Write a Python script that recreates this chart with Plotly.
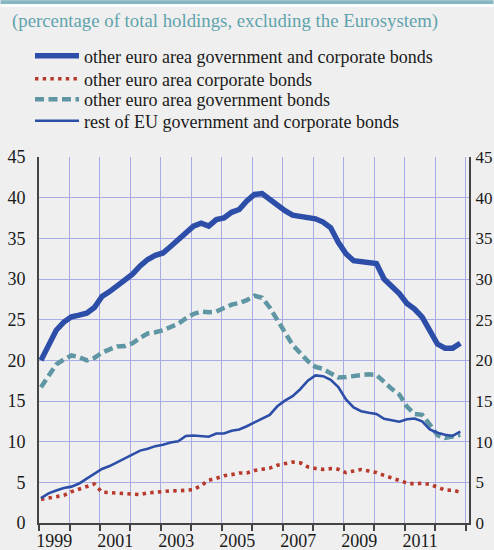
import plotly.graph_objects as go

# ---------------- data (quarterly, 1999Q1 - 2012Q4) ----------------
years = list(range(1999, 2013))
quarters = [f"{y}Q{q}" for y in years for q in range(1, 5)]

euro_gov_corp = [20.0, 22.0, 23.7, 24.7, 25.35, 25.55, 25.8, 26.5, 27.85, 28.45,
                 29.2, 29.85, 30.6, 31.6, 32.4, 32.9, 33.2, 34.0, 34.8, 35.6,
                 36.5, 36.85, 36.5, 37.3, 37.5, 38.2, 38.55, 39.6, 40.4, 40.5,
                 39.8, 39.0, 38.4, 37.85, 37.65, 37.5, 37.4, 37.0, 36.3, 34.5,
                 33.1, 32.25, 32.1, 31.95, 31.9, 30.0, 29.2, 28.2, 27.0, 26.3,
                 25.3, 23.5, 22.0, 21.5, 21.5, 22.1]
euro_corp = [2.9, 3.05, 3.2, 3.4, 3.85, 4.2, 4.55, 4.8, 3.8, 3.75,
             3.72, 3.65, 3.55, 3.5, 3.7, 3.82, 3.87, 3.95, 3.96, 4.0,
             4.1, 4.6, 5.25, 5.5, 5.8, 5.95, 6.15, 6.15, 6.45, 6.6,
             6.75, 7.1, 7.35, 7.5, 7.4, 6.9, 6.7, 6.6, 6.68, 6.6,
             6.2, 6.4, 6.57, 6.4, 6.2, 5.85, 5.55, 5.15, 4.92, 4.8,
             4.9, 4.75, 4.4, 4.05, 4.03, 3.8]
euro_gov = [16.7, 18.2, 19.5, 20.1, 20.6, 20.4, 20.0, 20.3, 20.95, 21.35,
            21.7, 21.75, 22.1, 22.75, 23.3, 23.45, 23.7, 24.1, 24.5, 25.15,
            25.7, 26.0, 25.9, 26.0, 26.5, 26.85, 27.05, 27.4, 27.95, 27.7,
            26.5, 25.0, 23.5, 21.9, 20.9, 19.9, 19.2, 18.95, 18.4, 17.9,
            17.95, 18.1, 18.2, 18.3, 18.2, 17.3, 16.5, 15.8, 14.3, 13.4,
            13.3, 12.1, 10.8, 10.45, 10.6, 10.85]
rest_eu = [3.05, 3.65, 4.0, 4.3, 4.47, 4.85, 5.45, 6.1, 6.65, 7.0,
           7.45, 7.98, 8.42, 8.9, 9.13, 9.45, 9.62, 9.9, 10.05, 10.7,
           10.75, 10.72, 10.6, 11.0, 11.0, 11.35, 11.5, 11.9, 12.35, 12.9,
           13.3, 14.35, 15.05, 15.6, 16.45, 17.5, 18.15, 18.05, 17.6, 16.7,
           15.2, 14.2, 13.75, 13.55, 13.4, 12.8, 12.65, 12.45, 12.75, 12.85,
           12.5, 11.5, 11.1, 10.85, 10.7, 11.25]

names = ["other euro area government and corporate bonds",
         "other euro area corporate bonds",
         "other euro area government bonds",
         "rest of EU government and corporate bonds"]
label_years = ["1999", "2001", "2003", "2005", "2007", "2009", "2011"]
title_text = "(percentage of total holdings, excluding the Eurosystem)"

# numeric x position of each quarter (decimal years)
xq = [int(q[:4]) + (int(q[-1]) - 1) * 0.25 + 0.065 for q in quarters]

# ---------------- geometry ----------------
W, H = 494, 550
L, R, T, B = 38.5, 469.5, 156.7, 522.7
X0, X1 = 1999.0, 2013.1


def px_x(p):
    return (p - L) / (R - L)


def px_y(p):
    return (B - p) / (B - T)


BG = "#efefef"
BLUE = "#2c4ea8"
TEAL = "#5e96a3"
RED = "#b8392c"
GRID = "#a8abe6"
AXIS = "#444444"
FONT = "Liberation Serif"
TXT = "#1a1a1a"

legend_rows = [56.0, 79.0, 99.6, 121.0]   # vertical centres of legend rows (px)
legend_x = 30

fig = go.Figure()
fig.add_trace(go.Scatter(x=xq, y=euro_gov, name=names[2], mode="lines",
                         line=dict(color=TEAL, width=4.5, dash="9px,4.5px"),
                         legend="legend3"))
fig.add_trace(go.Scatter(x=xq, y=euro_corp, name=names[1], mode="lines",
                         line=dict(color=RED, width=3.6, dash="3.4px,4.3px"),
                         legend="legend2"))
fig.add_trace(go.Scatter(x=xq, y=rest_eu, name=names[3], mode="lines",
                         line=dict(color=BLUE, width=2.6), legend="legend4"))
fig.add_trace(go.Scatter(x=xq, y=euro_gov_corp, name=names[0], mode="lines",
                         line=dict(color=BLUE, width=5.5), legend="legend"))
# invisible helper trace so the secondary axes are active
fig.add_trace(go.Scatter(x=[X0], y=[0], xaxis="x2", yaxis="y2", mode="markers",
                         marker=dict(opacity=0), showlegend=False, hoverinfo="skip"))


def legend_box(row_y):
    return dict(x=legend_x / W, xref="container", xanchor="left",
                y=1 - row_y / H, yref="container", yanchor="middle",
                bgcolor="rgba(0,0,0,0)", borderwidth=0, itemwidth=44,
                font=dict(family=FONT, size=18, color=TXT))


axis_font = dict(family=FONT, size=18, color=TXT)

fig.update_layout(
    width=W, height=H,
    margin=dict(l=L, r=W - R, t=T, b=H - B, pad=0, autoexpand=False),
    paper_bgcolor=BG, plot_bgcolor=BG,
    font=dict(family=FONT, size=18, color=TXT),
    title=dict(text=title_text, x=12 / W, xanchor="left", xref="container",
               y=1 - 20 / H, yanchor="middle", yref="container",
               font=dict(family=FONT, size=18.8, color="#5fa3ad")),
    showlegend=True,
    legend=legend_box(legend_rows[0]),
    legend2=legend_box(legend_rows[1]),
    legend3=legend_box(legend_rows[2]),
    legend4=legend_box(legend_rows[3]),
    xaxis=dict(range=[X0, X1], tickmode="array", tickvals=years + [2013],
               showticklabels=False, ticks="outside", ticklen=6, tickwidth=1.5,
               tickcolor=AXIS, showgrid=True, gridcolor=GRID, gridwidth=1,
               showline=True, linecolor=AXIS, linewidth=1.5, zeroline=False),
    xaxis2=dict(range=[X0, X1], overlaying="x", side="bottom", anchor="y",
                tickmode="array", tickvals=[int(y) + 0.5 for y in label_years],
                ticktext=label_years, ticks="", showgrid=False, showline=False,
                zeroline=False, ticklabelstandoff=5, tickfont=axis_font),
    yaxis=dict(range=[0, 45], dtick=5, tick0=0, showgrid=True, gridcolor=GRID,
               gridwidth=1, showline=True, linecolor=AXIS, linewidth=2,
               zeroline=False, ticks="", ticklabelstandoff=8, tickfont=axis_font),
    yaxis2=dict(range=[0, 45], dtick=5, tick0=0, overlaying="y", side="right",
                anchor="x", showgrid=False, showline=True, linecolor=AXIS,
                linewidth=2, zeroline=False, ticks="", ticklabelstandoff=1,
                tickfont=dict(family=FONT, size=17, color=TXT)),
    shapes=[
        dict(type="rect", xref="paper", yref="paper", x0=px_x(0), x1=px_x(W),
             y0=px_y(4), y1=px_y(0), fillcolor="#86b6c0", line=dict(width=0),
             layer="above"),
        dict(type="rect", xref="paper", yref="paper", x0=px_x(0), x1=px_x(W),
             y0=px_y(6.5), y1=px_y(4), fillcolor="#ffffff", line=dict(width=0),
             layer="above"),
    ],
)

fig.write_html(
    "out.html",
    config={"displayModeBar": False},
    post_script="document.body.style.margin='0';document.body.style.overflow='hidden';",
)
